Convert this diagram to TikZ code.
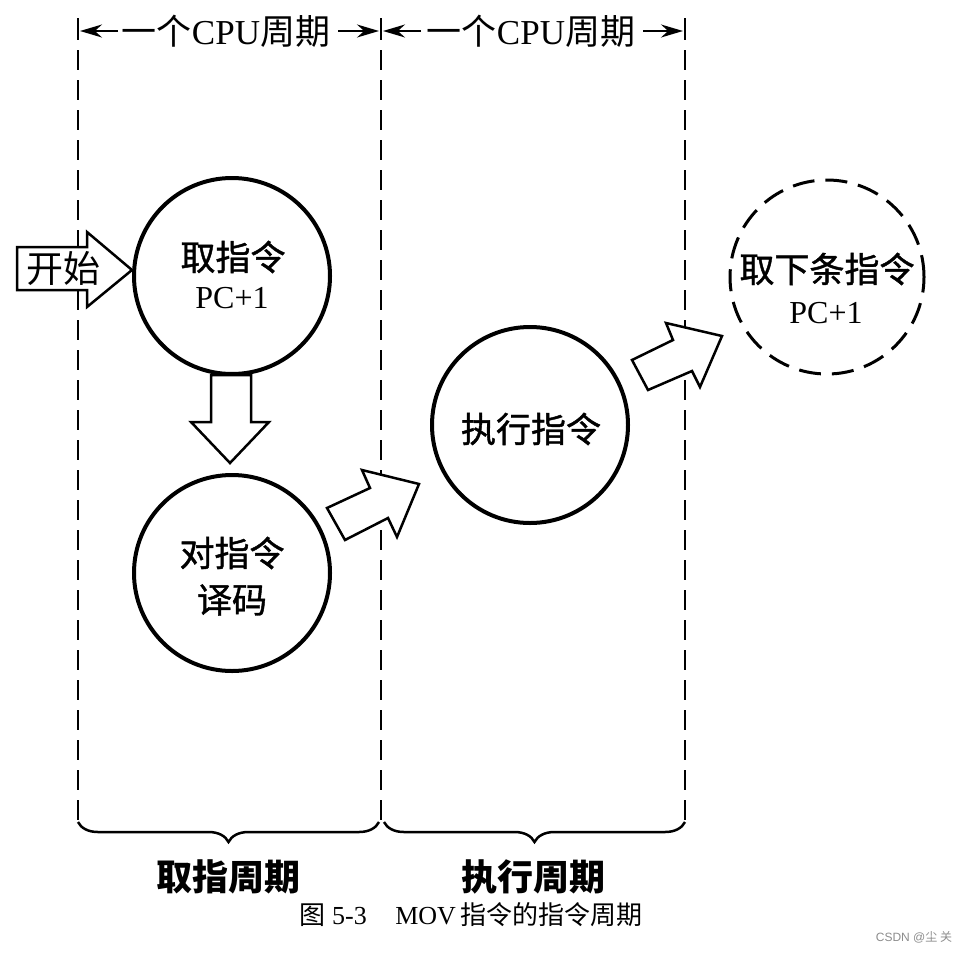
\documentclass[tikz,border=0pt]{standalone}
\usepackage{fontspec}
\setmainfont{Liberation Serif}
\newfontfamily\cjk{Noto Sans CJK SC}
\newfontfamily\cjkm[FakeBold=1.2]{Noto Sans CJK SC}
\newfontfamily\wmfont{Liberation Sans}
\usetikzlibrary{arrows.meta,decorations.pathreplacing}
\begin{document}
\begin{tikzpicture}[x=1pt,y=-1pt,
  circ/.style={circle,draw,line width=4pt,minimum size=196pt,inner sep=0pt,fill=white},
  dcirc/.style={circle,draw,line width=3pt,minimum size=194pt,inner sep=0pt,dash pattern=on 22pt off 11pt},
  vdash/.style={line width=2pt,dash pattern=on 20pt off 10pt},
  bar/.style={line width=2pt},
  blockarrow/.style={draw,line width=2.5pt,fill=white,line join=miter},
  dimarrow/.style={line width=2pt,-{Stealth[length=22pt,width=13pt]}},
  lbl/.style={font=\cjkm\fontsize{35}{40}\selectfont,inner sep=0pt},
  pc/.style={font=\rmfamily\fontsize{32}{36}\selectfont,inner sep=0pt},
  toplbl/.style={font=\fontsize{35}{40}\selectfont,inner sep=0pt},
  bottomlbl/.style={font=\cjk\bfseries\fontsize{36}{40}\selectfont,inner sep=0pt},
  brace/.style={decorate,decoration={brace,amplitude=20pt,mirror},line width=2.5pt}
]
\useasboundingbox (0,0) rectangle (973,953);

% dashed cycle boundaries
\coordinate (l1t) at (78,50);  \coordinate (l1b) at (78,822);
\coordinate (l2t) at (381,50); \coordinate (l2b) at (381,822);
\coordinate (l3t) at (685,50); \coordinate (l3b) at (685,822);
\draw[vdash] (l1t) -- (l1b);
\draw[vdash] (l2t) -- (l2b);
\draw[vdash] (l3t) -- (l3b);
\draw[bar] (78,18) -- (78,40);
\draw[bar] (381,18) -- (381,40);
\draw[bar] (685,18) -- (685,40);

% top dimension labels
\node[toplbl] (cpu1) at (226,31) {\cjk 一个\rmfamily CPU\cjk 周期};
\node[toplbl] (cpu2) at (531,31) {\cjk 一个\rmfamily CPU\cjk 周期};
\coordinate (a1s) at (118,31); \coordinate (a1e) at (80,31);
\coordinate (a2s) at (338,31); \coordinate (a2e) at (379,31);
\coordinate (a3s) at (421,31); \coordinate (a3e) at (383,31);
\coordinate (a4s) at (643,31); \coordinate (a4e) at (683,31);
\draw[dimarrow] (a1s) -- (a1e);
\draw[dimarrow] (a2s) -- (a2e);
\draw[dimarrow] (a3s) -- (a3e);
\draw[dimarrow] (a4s) -- (a4e);

% circles
\node[circ] (fetch) at (232,276) {};
\node[lbl] (fetchT) at (233,257) {取指令};
\node[pc] (fetchPC) at (232,298) {PC+1};

\node[circ] (decode) at (232,573) {};
\node[lbl] (decT1) at (232,553) {对指令};
\node[lbl] (decT2) at (232,600) {译码};

\node[circ] (exec) at (530,425) {};
\node[lbl] (execT) at (531,429) {执行指令};

\node[dcirc] (next) at (827,277) {};
\node[lbl] (nextT) at (827,269) {取下条指令};
\node[pc] (nextPC) at (826,313) {PC+1};

% block arrows
\draw[blockarrow] (17,247) -- (87,247) -- (87,232) -- (132,270) -- (87,307) -- (87,290) -- (17,290) -- cycle;
\node[font=\cjk\fontsize{37}{40}\selectfont,inner sep=0pt] (startT) at (63,268) {开始};

\draw[blockarrow] (211,375) -- (251,375) -- (251,422) -- (269,422) -- (230,463) -- (191,422) -- (211,422) -- cycle;

\draw[blockarrow] (327,508) -- (370,488) -- (362,470) -- (419,484) -- (397,537) -- (388,518) -- (345,540) -- cycle;

\draw[blockarrow] (632,360) -- (673,340) -- (666,323) -- (722,336) -- (700,387) -- (692,371) -- (648,390) -- cycle;

% braces
\draw[brace] (l1b) -- (379,822);
\draw[brace] (384,822) -- (l3b);

\node[bottomlbl] (fetchCycle) at (228,877) {取指周期};
\node[bottomlbl] (execCycle) at (533,877) {执行周期};

% caption
\node[inner sep=0pt,font=\fontsize{26}{30}\selectfont] (caption) at (471,915)
  {\cjk 图\rmfamily\ 5-3\hspace{1.1em}MOV\,\cjk 指令的指令周期};

% watermark
\node[inner sep=0pt,text=black!45,font=\wmfont\fontsize{12}{14}\selectfont] (wm) at (914,937)
  {CSDN @{\cjk 尘\ 关}};
\end{tikzpicture}
\end{document}
